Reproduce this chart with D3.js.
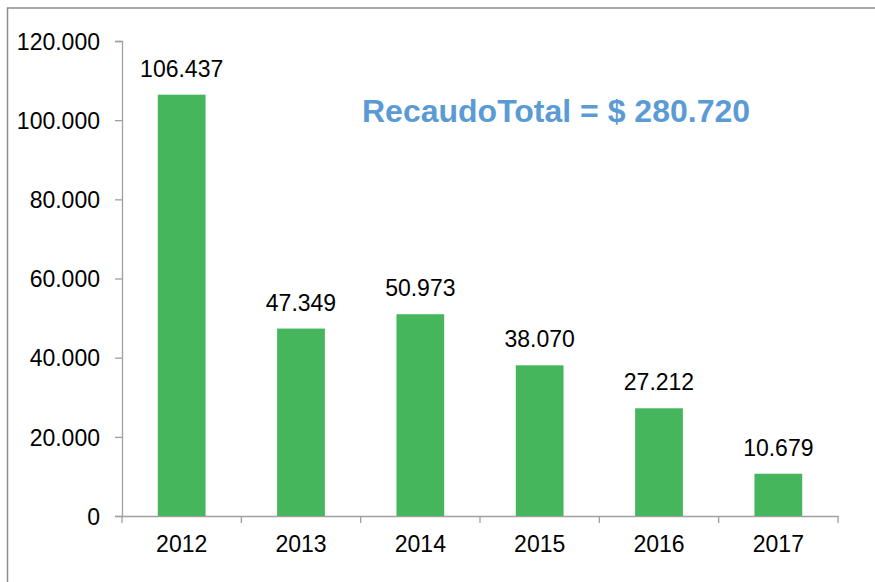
<!DOCTYPE html>
<html>
<head>
<meta charset="utf-8">
<script src="https://cdn.jsdelivr.net/npm/d3@7"></script>
<style>
  body { margin: 0; background: #fff; }
  svg { display: block; font-family: Arial, "Liberation Sans", sans-serif; }
</style>
</head>
<body>
<div id="chart"></div>
<script>
// data
var years = ["2012", "2013", "2014", "2015", "2016", "2017"];
var recaudo = [106437, 47349, 50973, 38070, 27212, 10679];
var yTicks = [0, 20000, 40000, 60000, 80000, 100000, 120000];
var totalLabel = "RecaudoTotal = $ 280.720";

var width = 875, height = 582;
var margin = {top: 41, right: 37, bottom: 66, left: 122};

var svg = d3.select("#chart")
  .append("svg")
  .attr("width", width)
  .attr("height", height);

// outer frame, runs off the right and bottom edge
svg.append("rect")
  .attr("x", 7.5).attr("y", 8)
  .attr("width", 900).attr("height", 600)
  .attr("fill", "none")
  .attr("stroke", "#8c8c8c")
  .attr("stroke-width", 1.5);

var x = d3.scaleBand()
  .domain(years)
  .range([margin.left, width - margin.right])
  .paddingInner(0.6)
  .paddingOuter(0.3);

var y = d3.scaleLinear()
  .domain([0, 120000])
  .range([height - margin.bottom, margin.top]);

var fmt = d3.formatLocale({decimal: ",", thousands: ".", grouping: [3], currency: ["$", ""]}).format(",");

// y axis
var yAxis = svg.append("g")
  .attr("transform", "translate(" + margin.left + ",0)")
  .call(d3.axisLeft(y).tickValues(yTicks).tickFormat(fmt).tickSize(7).tickPadding(15));
yAxis.selectAll("text").attr("font-size", "23px").attr("fill", "#000").attr("dy", "0.36em");

// x axis
var xAxis = svg.append("g")
  .attr("transform", "translate(0," + (height - margin.bottom) + ")")
  .call(d3.axisBottom(x).tickSize(0).tickPadding(20));
xAxis.selectAll("text").attr("font-size", "23px").attr("fill", "#000");

// boundary ticks between categories
var bounds = d3.range(years.length + 1).map(function(i) { return margin.left + i * (width - margin.left - margin.right) / years.length; });
xAxis.selectAll(".bound")
  .data(bounds)
  .enter()
  .append("line")
    .attr("class", "bound")
    .attr("x1", function(d) { return d; })
    .attr("x2", function(d) { return d; })
    .attr("y1", 0)
    .attr("y2", 7);

svg.selectAll(".domain, .tick line, .bound")
  .attr("stroke", "#a0a0a0")
  .attr("stroke-width", 1.3);

// bars
svg.selectAll(".bar")
  .data(recaudo)
  .enter()
  .append("rect")
    .attr("class", "bar")
    .attr("x", function(d, i) { return x(years[i]); })
    .attr("y", function(d) { return y(d); })
    .attr("width", x.bandwidth())
    .attr("height", function(d) { return y(0) - y(d); })
    .attr("fill", "#45b65b");

// value labels
svg.selectAll(".val")
  .data(recaudo)
  .enter()
  .append("text")
    .attr("class", "val")
    .attr("x", function(d, i) { return x(years[i]) + x.bandwidth() / 2; })
    .attr("y", function(d) { return y(d) - 18; })
    .attr("text-anchor", "middle")
    .attr("font-size", "23px")
    .attr("fill", "#000")
    .text(function(d) { return fmt(d); });

// total
svg.append("text")
  .attr("x", 362)
  .attr("y", 122)
  .attr("font-size", "32px")
  .attr("font-weight", "bold")
  .attr("fill", "#5b9bd5")
  .text(totalLabel);
</script>
</body>
</html>
